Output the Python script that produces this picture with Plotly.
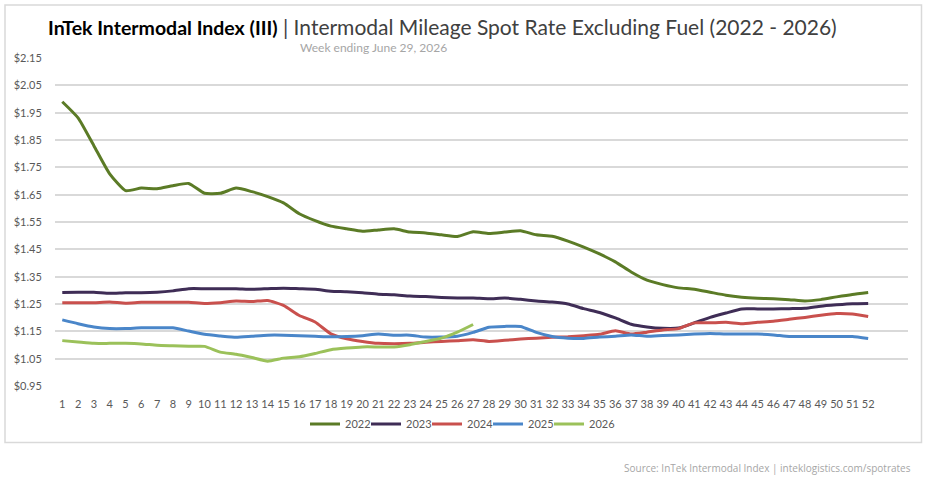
import plotly.graph_objects as go

weeks = list(range(1, 53))

y2022 = [1.990, 1.931, 1.829, 1.726, 1.665, 1.674, 1.672, 1.683, 1.691, 1.655,
         1.655, 1.674, 1.661, 1.643, 1.620, 1.580, 1.555, 1.535, 1.525, 1.516,
         1.521, 1.525, 1.513, 1.510, 1.503, 1.497, 1.514, 1.508, 1.513, 1.518,
         1.503, 1.498, 1.480, 1.458, 1.433, 1.404, 1.367, 1.337, 1.321, 1.309,
         1.304, 1.293, 1.282, 1.275, 1.271, 1.269, 1.266, 1.261, 1.266, 1.276,
         1.285, 1.292]

y2023 = [1.292, 1.293, 1.293, 1.289, 1.291, 1.291, 1.293, 1.298, 1.306, 1.306,
         1.306, 1.306, 1.304, 1.306, 1.308, 1.306, 1.304, 1.297, 1.295, 1.291,
         1.286, 1.284, 1.279, 1.277, 1.274, 1.272, 1.272, 1.269, 1.272, 1.267,
         1.261, 1.257, 1.250, 1.233, 1.219, 1.199, 1.176, 1.166, 1.161, 1.162,
         1.181, 1.201, 1.217, 1.232, 1.232, 1.232, 1.233, 1.234, 1.242, 1.247,
         1.251, 1.252]

y2024 = [1.255, 1.255, 1.255, 1.257, 1.253, 1.256, 1.256, 1.256, 1.256, 1.252,
         1.255, 1.261, 1.259, 1.263, 1.245, 1.208, 1.184, 1.141, 1.123, 1.113,
         1.106, 1.105, 1.106, 1.110, 1.113, 1.116, 1.119, 1.113, 1.117, 1.122,
         1.125, 1.128, 1.130, 1.134, 1.139, 1.152, 1.140, 1.147, 1.155, 1.160,
         1.181, 1.181, 1.183, 1.178, 1.183, 1.187, 1.194, 1.201, 1.209, 1.215,
         1.213, 1.204]

y2025 = [1.192, 1.178, 1.166, 1.160, 1.160, 1.163, 1.163, 1.163, 1.151, 1.139,
         1.133, 1.128, 1.132, 1.136, 1.136, 1.134, 1.132, 1.130, 1.131, 1.134,
         1.140, 1.136, 1.136, 1.129, 1.129, 1.132, 1.146, 1.165, 1.168, 1.168,
         1.146, 1.131, 1.125, 1.124, 1.129, 1.132, 1.137, 1.132, 1.135, 1.137,
         1.140, 1.142, 1.140, 1.140, 1.140, 1.137, 1.131, 1.131, 1.131, 1.131,
         1.131, 1.124]

y2026 = [1.116, 1.111, 1.106, 1.106, 1.106, 1.104, 1.099, 1.097, 1.095, 1.095,
         1.074, 1.066, 1.054, 1.041, 1.052, 1.057, 1.069, 1.083, 1.089, 1.093,
         1.093, 1.093, 1.101, 1.113, 1.125, 1.147, 1.175]

series_names = ["2022", "2023", "2024", "2025", "2026"]
series_values = [y2022, y2023, y2024, y2025, y2026]
series_colors = ["#5b7b26", "#3f2d56", "#c9504d", "#4a86c9", "#9bc15a"]

y_ticks = [0.95, 1.05, 1.15, 1.25, 1.35, 1.45, 1.55, 1.65, 1.75, 1.85, 1.95, 2.05, 2.15]

W, H = 928, 499
L, R, T, B = 55, 20, 58, 113
PW, PH = W - L - R, H - T - B


def px(x):
    return (x - L) / PW


def py(y):
    return (H - B - y) / PH


fig = go.Figure()
for name, vals, col in zip(series_names, series_values, series_colors):
    fig.add_trace(go.Scatter(
        x=weeks[:len(vals)], y=vals, name=name, mode="lines",
        line=dict(color=col, width=3, shape="spline", smoothing=0.5),
    ))

# empty spacer entry so that the last legend label is not clipped
fig.add_trace(go.Scatter(x=[None], y=[None], name=" ", mode="lines",
                         line=dict(color="rgba(0,0,0,0)", width=0),
                         hoverinfo="skip"))

font_main = "Lato, 'Open Sans', sans-serif"

fig.update_layout(
    width=W, height=H,
    margin=dict(l=L, r=R, t=T, b=B),
    paper_bgcolor="white", plot_bgcolor="white",
    font=dict(family=font_main, color="#595959", size=11),
    xaxis=dict(
        range=[0.54, 54.52], tickmode="array", tickvals=weeks,
        ticktext=[str(w) for w in weeks],
        showgrid=False, zeroline=False, showline=False,
        ticks="outside", ticklen=8, tickcolor="rgba(0,0,0,0)",
        tickfont=dict(size=11, color="#595959"),
    ),
    yaxis=dict(
        range=[0.95, 2.15], tickmode="array", tickvals=y_ticks,
        ticktext=["${:.2f}".format(v) for v in y_ticks],
        showgrid=True, gridcolor="#d9d9d9", gridwidth=1.5,
        zeroline=False, showline=False,
        ticks="outside", ticklen=10, tickcolor="rgba(0,0,0,0)",
        tickfont=dict(size=11, color="#595959"),
    ),
    legend=dict(
        orientation="h", x=px(488), xanchor="center",
        y=py(424), yanchor="middle",
        font=dict(size=11, color="#595959"),
        entrywidth=16, entrywidthmode="pixels",
        bgcolor="rgba(0,0,0,0)",
    ),
    showlegend=True,
)

fig.add_shape(type="rect", xref="paper", yref="paper",
              x0=px(5), x1=px(921.5), y0=py(442.5), y1=py(5),
              line=dict(color="#d9d9d9", width=1.5), fillcolor="rgba(0,0,0,0)",
              layer="below")

fig.add_annotation(
    xref="paper", yref="paper", x=px(46), y=py(26.5), xanchor="left", yanchor="middle",
    showarrow=False,
    text="<b><span style='font-size:19.5px;color:#000000'>InTek Intermodal Index (III)</span></b>"
         "<span style='font-size:21px;color:#404040'> | Intermodal Mileage Spot Rate Excluding Fuel (2022 - 2026)</span>",
    font=dict(family=font_main, size=21, color="#404040"),
)

fig.add_annotation(
    xref="paper", yref="paper", x=px(298), y=py(48), xanchor="left", yanchor="middle",
    showarrow=False, text="Week ending June 29, 2026",
    font=dict(family=font_main, size=12, color="#a6a6a6"),
)

fig.add_annotation(
    xref="paper", yref="paper", x=px(913), y=py(468), xanchor="right", yanchor="middle",
    showarrow=False, text="Source: InTek Intermodal Index | inteklogistics.com/spotrates",
    font=dict(family="'Open Sans', sans-serif", size=10, color="#a6a6a6"),
)

fig.write_html("out.html")
